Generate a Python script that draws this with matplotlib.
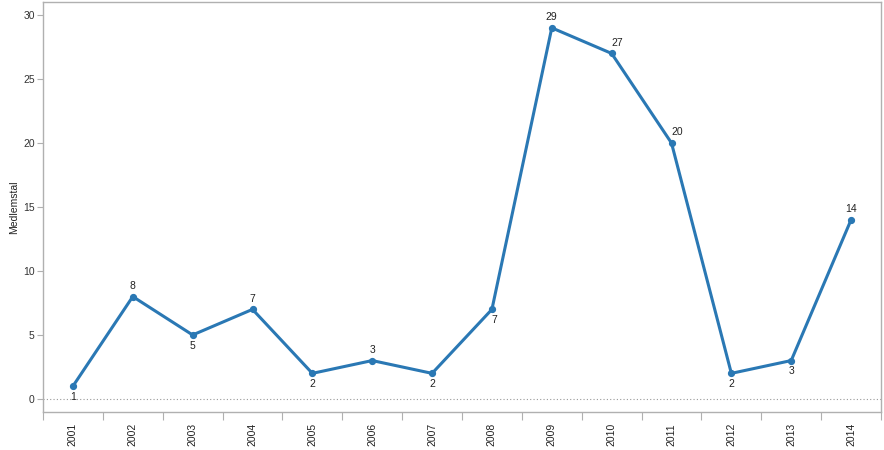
import matplotlib
matplotlib.use("Agg")
import matplotlib.pyplot as plt
from matplotlib.ticker import FixedLocator

years = ["2001", "2002", "2003", "2004", "2005", "2006", "2007",
         "2008", "2009", "2010", "2011", "2012", "2013", "2014"]
values = [1, 8, 5, 7, 2, 3, 2, 7, 29, 27, 20, 2, 3, 14]
# label placement: 'b' below, 'a' above, 'ar' above-right, 'br' below-right
label_pos = ["b", "a", "b", "a", "b", "a", "b", "br", "a", "ar", "ar", "b", "b", "a"]
y_ticks = [0, 5, 10, 15, 20, 25, 30]
y_label = "Medlemstal"

plt.rcParams['font.family'] = ['Liberation Sans', 'DejaVu Sans']

W, H = 884, 450
fig = plt.figure(figsize=(W / 100, H / 100), dpi=100)
ax = fig.add_axes([43 / W, 1 - 412 / H, (881 - 43) / W, (412 - 2) / H])

color = "#2a78b4"
xs = list(range(len(years)))
ax.plot(xs, values, color=color, lw=2.2, marker="o", ms=4.2, zorder=3,
        solid_joinstyle="round")

for x, v, p in zip(xs, values, label_pos):
    if p == "a":
        ax.annotate(str(v), (x, v), xytext=(0, 4), textcoords="offset points",
                    ha="center", va="bottom", fontsize=7.5, color="#222222")
    elif p == "ar":
        ax.annotate(str(v), (x, v), xytext=(4, 4), textcoords="offset points",
                    ha="center", va="bottom", fontsize=7.5, color="#222222")
    elif p == "br":
        ax.annotate(str(v), (x, v), xytext=(1.5, -4), textcoords="offset points",
                    ha="center", va="top", fontsize=7.5, color="#222222")
    else:
        ax.annotate(str(v), (x, v), xytext=(0, -4), textcoords="offset points",
                    ha="center", va="top", fontsize=7.5, color="#222222")

ax.axhline(0, color="#999999", lw=0.8, ls=(0, (1, 2)), zorder=1)

ax.set_xlim(-0.5, 13.5)
ax.set_ylim(-1.02, 31.02)

ax.set_yticks(y_ticks)
ax.tick_params(axis="y", length=4, width=0.8, color="#b0b0b0",
               labelsize=7.5, labelcolor="#333333", pad=2)

ax.set_xticks(xs)
ax.set_xticklabels(years, rotation=90, fontsize=7.5, color="#222222")
ax.tick_params(axis="x", which="major", length=0, pad=8)
ax.xaxis.set_minor_locator(FixedLocator([i - 0.5 for i in range(len(years) + 1)]))
ax.tick_params(axis="x", which="minor", length=6, width=0.8, color="#b0b0b0")

for s in ax.spines.values():
    s.set_color("#b0b0b0")
    s.set_linewidth(1.0)

ax.set_ylabel(y_label, fontsize=7.5, color="#222222", labelpad=3)

fig.savefig("out.png", dpi=100)
